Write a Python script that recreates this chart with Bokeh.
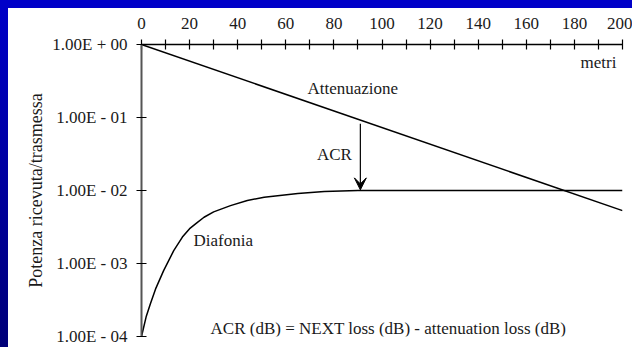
from bokeh.plotting import figure
from bokeh.models import Range1d, FixedTicker, CustomJSTickFormatter, Arrow, VeeHead, Label
from bokeh.embed import file_html
from bokeh.resources import INLINE

# ---- data ----
x_major = [0, 20, 40, 60, 80, 100, 120, 140, 160, 180, 200]
x_minor = [10, 30, 50, 70, 90, 110, 130, 150, 170, 190]
y_ticks = [1e-4, 1e-3, 1e-2, 1e-1, 1e0]
y_tick_labels = ["1.00E - 04", "1.00E - 03", "1.00E - 02", "1.00E - 01", "1.00E + 00"]

atten_x = [0, 200]
atten_y = [1.0, 0.0053]

diaf_x = [0, 2, 3.7, 6, 9.2, 13.4, 17, 20, 23, 26, 30, 37, 44, 51, 65, 76, 90, 200]
diaf_y = [1.0e-4, 1.9e-4, 2.8e-4, 4.6e-4, 8.0e-4, 1.5e-3, 2.3e-3, 3.0e-3, 3.6e-3, 4.3e-3,
          5.1e-3, 6.2e-3, 7.3e-3, 8.1e-3, 9.1e-3, 9.7e-3, 1.0e-2, 1.0e-2]

acr_x = 91
acr_y_start = 0.082
acr_y_end = 0.0102

label_texts = ["Attenuazione", "metri", "ACR", "Diafonia",
               "ACR (dB) = NEXT loss (dB) - attenuation loss (dB)"]
label_x = [69, 190, 87.5, 21.6, 28.7]
label_y = [0.25, 0.57, 0.031, 0.00207, 1.29e-4]
label_align = ["left", "center", "right", "left", "left"]

FONT = "Liberation Serif, Times New Roman, DejaVu Serif, serif"
TXT = "#1a1a1a"

p = figure(width=624, height=339, x_axis_location="above", y_axis_type="log",
           x_range=Range1d(0, 200), y_range=Range1d(1e-4, 1),
           output_backend="svg", toolbar_location=None,
           min_border_left=133, min_border_right=10, min_border_top=36, min_border_bottom=11)
p.outline_line_color = None
p.grid.visible = False
p.background_fill_color = "white"
p.border_fill_color = "white"

# x axis (top)
xa = p.xaxis[0]
xa.ticker = FixedTicker(ticks=x_major, minor_ticks=x_minor)
xa.major_tick_in = 5
xa.major_tick_out = 5
xa.minor_tick_in = 5
xa.minor_tick_out = 5
xa.axis_line_width = 1.5
xa.major_tick_line_width = 1.2
xa.minor_tick_line_width = 1.2
xa.major_label_standoff = 11
xa.major_label_text_font = FONT
xa.major_label_text_font_size = "17px"
xa.major_label_text_color = TXT

# y axis (left)
ya = p.yaxis[0]
ya.ticker = FixedTicker(ticks=y_ticks, minor_ticks=[])
ya.formatter = CustomJSTickFormatter(args=dict(tvals=y_ticks, tlabels=y_tick_labels), code="""
    for (let i = 0; i < tvals.length; i++) {
        if (Math.abs(tvals[i] - tick) / tvals[i] < 1e-6) return tlabels[i];
    }
    return '';
""")
ya.major_tick_in = 5
ya.major_tick_out = 5
ya.major_tick_line_width = 1.2
ya.axis_line_width = 2
ya.axis_line_color = "#555555"
ya.major_label_standoff = 9
ya.major_label_text_font = FONT
ya.major_label_text_font_size = "17px"
ya.major_label_text_color = TXT
ya.axis_label = "Potenza ricevuta/trasmessa"
ya.axis_label_text_font = FONT
ya.axis_label_text_font_style = "normal"
ya.axis_label_text_font_size = "18px"
ya.axis_label_text_color = TXT
ya.axis_label_standoff = 3

# curves
p.line(atten_x, atten_y, line_color="black", line_width=1.5)
p.line(diaf_x, diaf_y, line_color="black", line_width=1.5)

# ACR arrow
p.add_layout(Arrow(end=VeeHead(size=12, fill_color="black", line_color="black"),
                   x_start=acr_x, y_start=acr_y_start, x_end=acr_x, y_end=acr_y_end,
                   line_color="black", line_width=1.2))

for t, x, y, a in zip(label_texts, label_x, label_y, label_align):
    p.add_layout(Label(x=x, y=y, text=t, text_font=FONT, text_font_size="17px",
                       text_color=TXT, text_align=a, text_baseline="middle"))

html = file_html(p, INLINE)
html = html.replace("</head>",
                    "<style>html{background:"
                    "linear-gradient(#0000c8,#0000c8) left top / 100% 8px no-repeat,"
                    "linear-gradient(to bottom,#0000c8 0%,#000078 100%) left top / 8px 100% no-repeat,"
                    "#ffffff !important;overflow:hidden !important;}"
                    "body{background:transparent !important;padding:8px 0 0 8px !important;"
                    "box-sizing:border-box !important;overflow:hidden !important;}</style></head>", 1)
open("out.html", "w").write(html)
